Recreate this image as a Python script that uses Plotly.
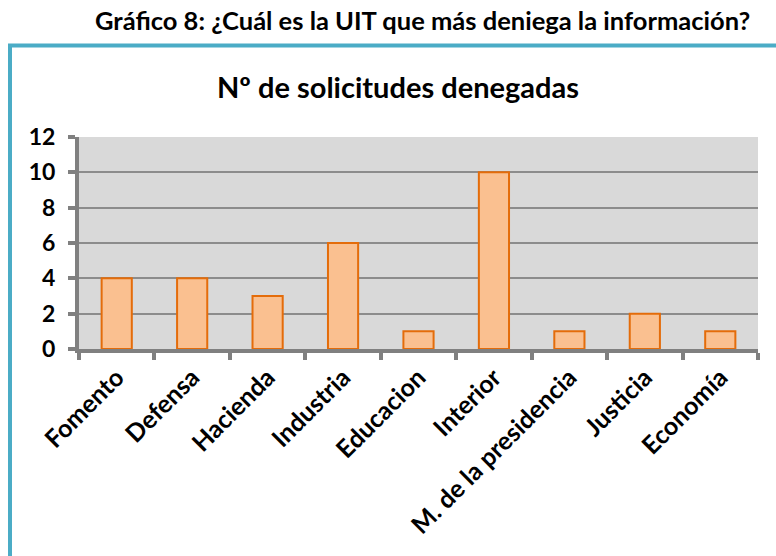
import plotly.graph_objects as go

categories = ["Fomento", "Defensa", "Hacienda", "Industria", "Educacion",
              "Interior", "M. de la presidencia", "Justicia", "Economía"]
values = [4, 4, 3, 6, 1, 10, 1, 2, 1]
y_ticks = [0, 2, 4, 6, 8, 10, 12]

main_title = "Gráfico 8: ¿Cuál es la UIT que más deniega la información?"
chart_title = "Nº de solicitudes denegadas"

W, H = 776, 556
L, R, T, B = 79, 18, 137, 207
pw, ph = W - L - R, H - T - B

def px_x(p):
    return (p - L) / pw

def px_y(p):
    return (H - B - p) / ph

FONT = "Lato"

fig = go.Figure(go.Bar(
    x=categories, y=values,
    marker=dict(color="#FAC090", line=dict(color="#E46C0A", width=2)),
    width=0.4,
))

fig.update_layout(
    width=W, height=H,
    margin=dict(l=L, r=R, t=T, b=B),
    paper_bgcolor="white",
    plot_bgcolor="#D9D9D9",
    showlegend=False,
    font=dict(family=FONT, color="black"),
    xaxis=dict(
        type="category",
        tickangle=-45,
        tickson="boundaries",
        ticks="outside", ticklen=7, tickwidth=4, tickcolor="#808080",
        showline=True, linecolor="#808080", linewidth=4,
        showgrid=False,
        tickfont=dict(family=FONT, size=25, color="black", weight="bold"),
        range=[-0.5, 8.5],
        automargin=False,
    ),
    yaxis=dict(
        range=[0, 12],
        tickvals=y_ticks,
        ticks="outside", ticklen=7, tickwidth=4, tickcolor="#808080",
        showline=True, linecolor="#808080", linewidth=4,
        showgrid=True, gridcolor="#8C8C8C", gridwidth=1.5,
        tickfont=dict(family=FONT, size=23, color="black", weight="bold"),
        ticklabelstandoff=8,
        zeroline=False,
        automargin=False,
    ),
    shapes=[
        dict(type="line", xref="paper", yref="paper",
             x0=px_x(10), x1=px_x(10), y0=px_y(45.5), y1=px_y(600),
             line=dict(color="#4BACC6", width=4)),
        dict(type="line", xref="paper", yref="paper",
             x0=px_x(8), x1=px_x(800), y0=px_y(45.5), y1=px_y(45.5),
             line=dict(color="#4BACC6", width=4)),
    ],
    annotations=[
        dict(text="<b>" + main_title + "</b>", xref="paper", yref="paper",
             x=px_x(422), y=px_y(20), showarrow=False,
             font=dict(family=FONT, size=25.5, color="black"),
             xanchor="center", yanchor="middle"),
        dict(text="<b>" + chart_title + "</b>", xref="paper", yref="paper",
             x=px_x(398), y=px_y(86), showarrow=False,
             font=dict(family=FONT, size=29, color="black"),
             xanchor="center", yanchor="middle"),
    ],
)

fig.write_html("out.html", config={"displayModeBar": False},
               post_script="document.body.style.margin='0px';")
